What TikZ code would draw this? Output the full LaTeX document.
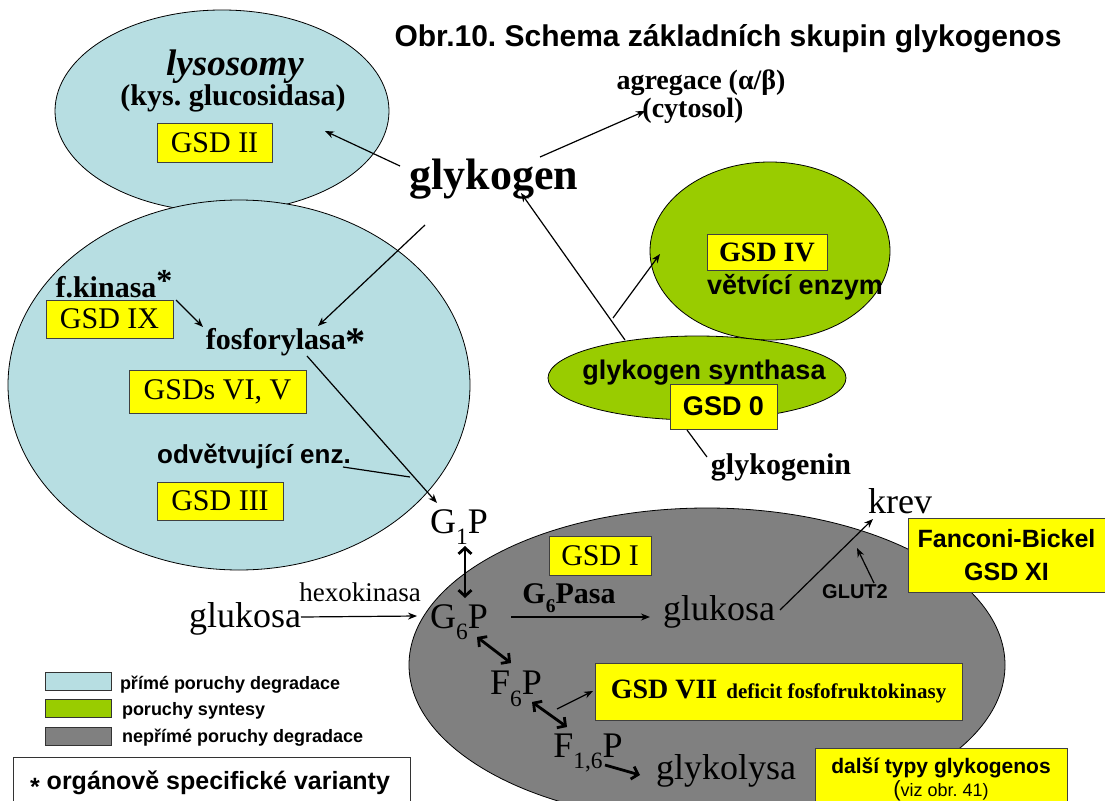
\documentclass[tikz,border=0pt]{standalone}
\usepackage{fontspec}
\usepackage{graphicx}
\setmainfont{Liberation Serif}
\setsansfont{Liberation Sans}
\usetikzlibrary{shapes.geometric,arrows.meta}
\definecolor{lyso}{RGB}{183,222,226}
\definecolor{synt}{RGB}{153,204,0}
\definecolor{indir}{RGB}{128,128,128}
\definecolor{gsdyellow}{RGB}{255,255,0}
\newcommand\fsz[1]{\fontsize{#1pt}{#1pt}\selectfont}
\newcommand\subidx[1]{\raisebox{-0.32em}{\scalebox{0.65}{#1}}}
\newcommand\midstar{\raisebox{-0.2em}{\scalebox{1.35}{*}}}
\frenchspacing
\begin{document}
\begin{tikzpicture}[x=1pt,y=-1pt,
  every node/.style={inner sep=0pt,outer sep=0pt},
  area/.style={ellipse,draw=black,line width=0.8pt},
  gsdbox/.style={rectangle,draw=black!75,fill=gsdyellow,line width=0.8pt},
  swatch/.style={rectangle,draw=black!80,line width=0.8pt,minimum width=66pt,minimum height=18pt},
  conn/.style={line width=1.2pt,-{Stealth[length=9pt,width=7pt]}},
  plainline/.style={line width=1.2pt},
  thickarr/.style={line width=2.8pt,{Straight Barb[length=6pt,width=13pt]}-{Straight Barb[length=6pt,width=13pt]}},
  thickone/.style={line width=2.8pt,-{Straight Barb[length=6pt,width=13pt]}},
  serifb/.style={font=\bfseries\fsz{#1}},
  serifr/.style={font=\fsz{#1}},
  sansb/.style={font=\sffamily\bfseries\fsz{#1}},
  legend/.style={anchor=west,font=\sffamily\bfseries\fsz{18}}]
\useasboundingbox (0,0) rectangle (1105,800);

% --- areas ---
\node[area,fill=lyso,minimum width=334pt,minimum height=202pt] (lys) at (222,111) {};
\node[area,fill=lyso,minimum width=462pt,minimum height=370pt] (cyto) at (239,385) {};
\node[area,fill=synt,minimum width=240pt,minimum height=178pt] (branch) at (770,251) {};
\node[area,fill=synt,minimum width=298pt,minimum height=84pt] (synth) at (697,378) {};
\node[area,fill=indir,minimum width=596pt,minimum height=314pt] (liver) at (707,665) {};

% --- title ---
\node[sansb=30] (title) at (728,39) {Obr.10. Schema základních skupin glykogenos};

% --- lysosome ---
\node[font=\bfseries\itshape\fsz{37}] (lystxt) at (235,67) {lysosomy};
\node[serifb=30] (acid) at (233,98) {(kys. glucosidasa)};
\node[gsdbox,serifr=30,minimum width=115pt,minimum height=39pt] (gsd2) at (214.5,142.5) {GSD II};

% --- glycogen ---
\node[serifb=44] (glyk) at (494,179) {glykogen};
\node[serifb=28] (agr) at (701,83) {agregace (α/β)};
\node[serifb=28] (cyt) at (693,111) {(cytosol)};

% --- synthesis ---
\node[gsdbox,serifb=28,minimum width=120pt,minimum height=36pt] (gsd4) at (767,252.5) {GSD IV};
\node[sansb=27] (branchtxt) at (795,287) {větvící enzym};
\node[sansb=27] (synthtxt) at (704,373) {glykogen synthasa};
\node[gsdbox,sansb=27,minimum width=107pt,minimum height=45pt] (gsd0) at (723.5,406.5) {GSD 0};
\node[serifb=30] (glykogenin) at (781,467) {glykogenin};

% --- degradation in cytosol ---
\node[serifb=30] (fkin) at (114,284) {f.kinasa\raisebox{0.2em}{\fsz{32}*}};
\node[gsdbox,serifr=30,minimum width=127pt,minimum height=38pt] (gsd9) at (109.5,319) {GSD IX};
\node[serifb=30] (phos) at (286,342) {fosforylasa\midstar};
\node[gsdbox,serifr=30,minimum width=177pt,minimum height=43pt] (gsd65) at (217.5,391.5) {GSDs VI, V};
\node[sansb=26] (debr) at (254,456) {odvětvující enz.};
\node[gsdbox,serifr=30,minimum width=126pt,minimum height=38pt] (gsd3) at (220,501) {GSD III};

% --- hexose phosphates ---
\node[serifr=36] (g1p) at (459,527) {G\subidx{1}P};
\node[serifr=36] (g6p) at (459,622) {G\subidx{6}P};
\node[serifr=36] (f6p) at (516,689) {F\subidx{6}P};
\node[serifr=36] (f16p) at (588,753) {F\subidx{1,6}P};
\node[serifr=36] (gluc1) at (245,619) {glukosa};
\node[serifr=27] (hexo) at (360,592) {hexokinasa};
\node[gsdbox,serifr=30,minimum width=102pt,minimum height=39pt] (gsd1) at (600,555.5) {GSD I};
\node[serifb=30] (g6pasa) at (569,598) {G\subidx{6}Pasa};
\node[serifr=36] (gluc2) at (719,612) {glukosa};
\node[serifr=36] (krev) at (900,501) {krev};
\node[sansb=20] (glut) at (855,592) {GLUT2};
\node[gsdbox,align=center,font=\sffamily\bfseries\fontsize{25pt}{33pt}\selectfont,minimum width=197pt,minimum height=74pt] (fb) at (1006.5,555) {Fanconi-Bickel\\GSD XI};
\node[gsdbox,font=\bfseries,minimum width=367pt,minimum height=57pt] (gsd7) at (778.5,691.5) {{\fsz{28}GSD VII}\hspace{9pt}{\fsz{21}deficit fosfofruktokinasy}};
\node[serifr=36] (glykol) at (726,771) {glykolysa};
\node[gsdbox,minimum width=252pt,minimum height=70pt] (dalsi) at (941,783) {};
\node[sansb=21] (dalsitxt) at (941,768) {další typy glykogenos};
\node[font=\sffamily\fsz{18}] (viz) at (941,791) {{\fsz{22}(}viz obr. 41)};

% --- legend ---
\node[swatch,fill=lyso] (sw1) at (78,681) {};
\node[swatch,fill=synt] (sw2) at (78,708) {};
\node[swatch,fill=indir] (sw3) at (78,736.5) {};
\node[legend] (lg1) at (120,685) {přímé poruchy degradace};
\node[legend] (lg2) at (122,711) {poruchy syntesy};
\node[legend] (lg3) at (122,738) {nepřímé poruchy degradace};
\node[draw=black!80,line width=0.8pt,minimum width=397pt,minimum height=60pt] (var) at (211.5,787) {};
\node[sansb=25] (vartxt) at (210,783) {\raisebox{-0.22em}{*} orgánově specifické varianty};

% --- connector end points ---
\coordinate (pLys) at (325,131);
\coordinate (pGlykL) at (400,166);
\coordinate (pGlykR) at (540,157);
\coordinate (pAgr) at (645,111);
\coordinate (pGlykD) at (425,225);
\coordinate (pPhos) at (318,326);
\coordinate (pSynTop) at (625,340);
\coordinate (pGlykS) at (521,193);
\coordinate (pSynA) at (613,318);
\coordinate (pBranch) at (660,254);
\coordinate (pG0) at (687,430);
\coordinate (pGenin) at (707,457);
\coordinate (pKin) at (176,300);
\coordinate (pPhosIn) at (203,327);
\coordinate (pPhosOut) at (307,356);
\coordinate (pG1) at (437,503);
\coordinate (pDebr) at (343,467);
\coordinate (pJoin) at (410,477);
\coordinate (pGlucIn) at (417,616);
\coordinate (pG6out) at (511,617);
\coordinate (pGluc2in) at (650,617);
\coordinate (pGlucOut) at (780,610);
\coordinate (pKrev) at (873,519);
\coordinate (pGlut) at (874,583);
\coordinate (pMemb) at (857,548);
\coordinate (pF6out) at (557,709);
\coordinate (pG7) at (593,691);
\coordinate (pG1low) at (465,546);
\coordinate (pG6up) at (465,598);
\coordinate (pG6low) at (477,637);
\coordinate (pF6up) at (511,663);
\coordinate (pF6low) at (532,702);
\coordinate (pF16up) at (567,727);
\coordinate (pF16out) at (605,765);
\coordinate (pGlykol) at (640,775);

% --- connectors ---
\draw[conn] (pGlykL) -- (pLys);
\draw[conn] (pGlykR) -- (pAgr);
\draw[conn] (pGlykD) -- (pPhos);
\draw[conn] (pSynTop) -- (pGlykS);
\draw[conn] (pSynA) -- (pBranch);
\draw[plainline] (pG0) -- (pGenin);
\draw[conn] (pKin) -- (pPhosIn);
\draw[conn] (pPhosOut) -- (pG1);
\draw[plainline] (pDebr) -- (pJoin);
\draw[thickarr] (pG1low) -- (pG6up);
\draw[conn] (gluc1.east) ++(0,-2) -- (pGlucIn);
\draw[conn] (pG6out) -- (pGluc2in);
\draw[conn] (pGlucOut) -- (pKrev);
\draw[conn] (pGlut) -- (pMemb);
\draw[thickarr] (pG6low) -- (pF6up);
\draw[conn] (pF6out) -- (pG7);
\draw[thickarr] (pF6low) -- (pF16up);
\draw[thickone] (pF16out) -- (pGlykol);
\end{tikzpicture}
\end{document}
